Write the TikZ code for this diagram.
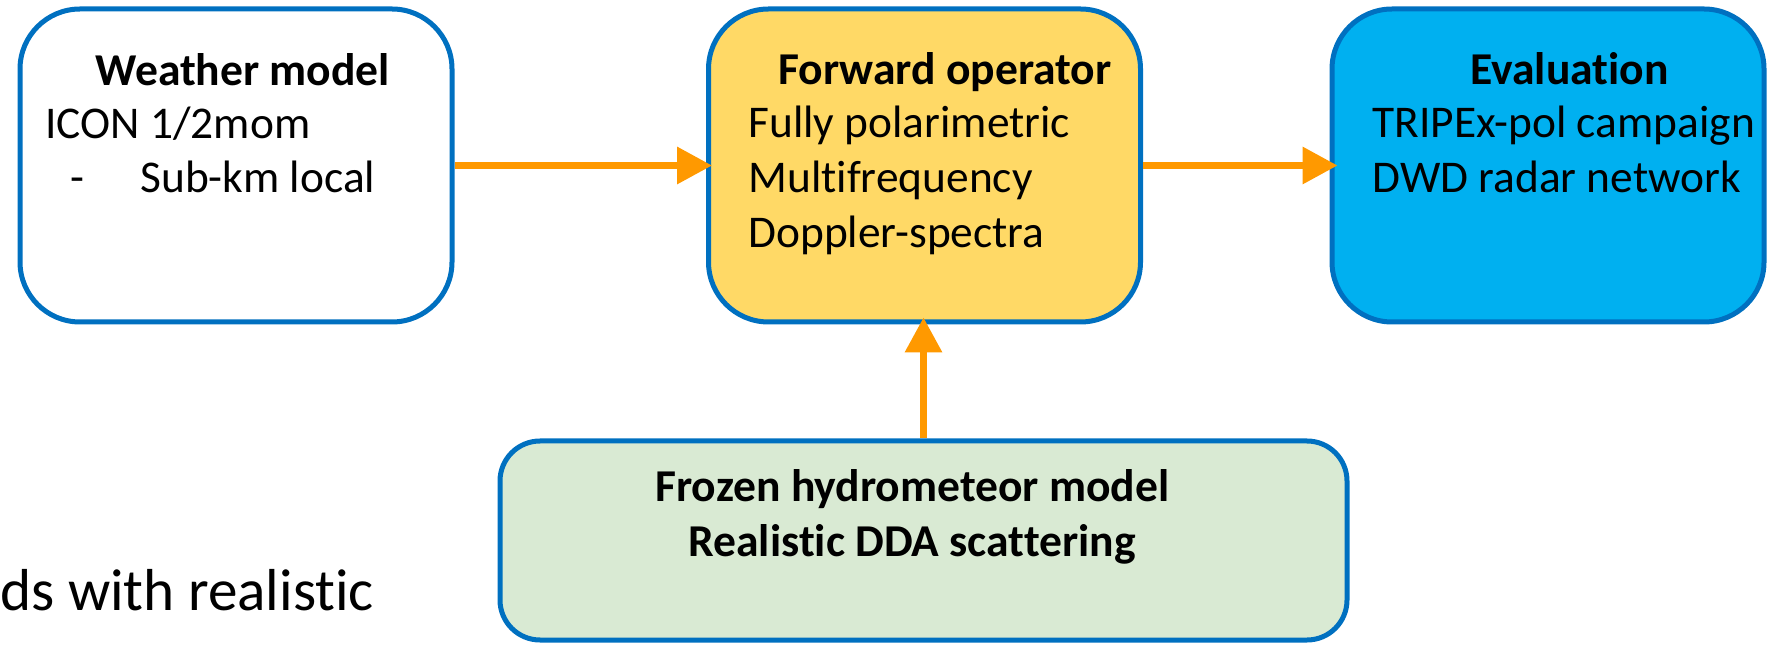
\documentclass[tikz,border=0pt]{standalone}
\usepackage{fontspec}
\setmainfont{Carlito}[Ligatures=NoCommon]
\usetikzlibrary{arrows.meta}
\definecolor{bstroke}{HTML}{0070C0}
\definecolor{yfill}{HTML}{FFD966}
\definecolor{cfill}{HTML}{00B0F0}
\definecolor{gfill}{HTML}{D9EAD3}
\definecolor{arrowc}{HTML}{FF9900}
\begin{document}
\begin{tikzpicture}[x=0.5pt,y=-0.5pt,
  box/.style={draw=bstroke, line width=2.5pt, rounded corners=30pt, inner sep=0pt,
    minimum height=156.5pt, minimum width=216pt},
  flow/.style={draw=arrowc, line width=3.3pt, -{Triangle[length=17.5pt,width=18pt]}},
  title/.style={anchor=base west, inner sep=0pt, font=\fontsize{22.8pt}{27pt}\selectfont\bfseries},
  body/.style={anchor=base west, inner sep=0pt, font=\fontsize{22.7pt}{27pt}\selectfont},
  big/.style={anchor=base west, inner sep=0pt, font=\fontsize{29.6pt}{36pt}\selectfont}]
\useasboundingbox (0,0) rectangle (1777,646);
\node[box, fill=white] (A) at (236,165.5) {};
\node[box, fill=yfill] (B) at (924.5,165.5) {};
\node[box, fill=cfill] (C) at (1548,165.5) {};
\node[box, fill=gfill, rounded corners=20pt, minimum width=423.5pt, minimum height=99.5pt] (D) at (923.5,540.5) {};
% texts
\node[title] (tA1) at (95,86) {Weather model};
\node[body] (tA2) at (45,139) {ICON 1/2mom};
\node[body] (tA3) at (70,193) {-};
\node[body] (tA4) at (140,193) {Sub-km local};
\node[title] (tB1) at (778,85) {Forward operator};
\node[body] (tB2) at (748,138) {Fully polarimetric};
\node[body] (tB3) at (748,193) {Multifrequency};
\node[body] (tB4) at (748,248) {Doppler-spectra};
\node[title] (tC1) at (1470,85) {Evaluation};
\node[body] (tC2) at (1372,138) {TRIPEx-pol campaign};
\node[body] (tC3) at (1372,193) {DWD radar network};
\node[title] (tD1) at (655,502) {Frozen hydrometeor model};
\node[title] (tD2) at (688,556) {Realistic DDA scattering};
\node[big] (tE) at (0,610) {ds with realistic};
% arrows
\draw[flow, shorten >=-3pt] (A.east) -- (B.west);
\draw[flow, shorten >=-4pt] (B.east) -- (C.west);
\draw[flow, shorten >=-3.5pt] (D.north) -- (D.north |- B.south);
\end{tikzpicture}
\end{document}
